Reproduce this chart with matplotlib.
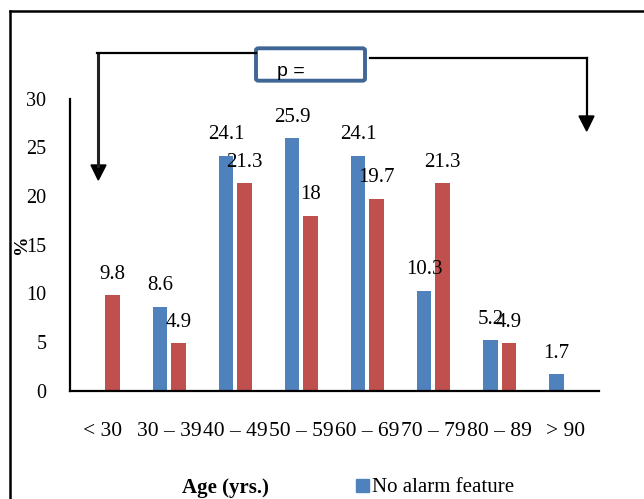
import numpy as np
import matplotlib
matplotlib.use("Agg")
import matplotlib.pyplot as plt
from matplotlib.lines import Line2D
from matplotlib.patches import Patch, Polygon, FancyBboxPatch

# data
age_groups = ["< 30", "30 – 39", "40 – 49", "50 – 59", "60 – 69", "70 – 79", "80 – 89", "> 90"]
no_alarm = [np.nan, 8.6, 24.1, 25.9, 24.1, 10.3, 5.2, 1.7]
alarm = [9.8, 4.9, 21.3, 18.0, 19.7, 21.3, 4.9, np.nan]
y_ticks = [0, 5, 10, 15, 20, 25, 30]

blue = "#4F81BD"
red = "#C0504D"

W, H = 644, 499
plt.rcParams["font.family"] = ["Liberation Serif", "DejaVu Serif"]
plt.rcParams["font.size"] = 15

fig = plt.figure(figsize=(W / 100, H / 100), dpi=100)


def fx(x):
    return x / W


def fy(y):
    return 1 - y / H


# axes placed in pixel terms of the reference
ax_l, ax_r, ax_t, ax_b = 70, 598.7, 98.5, 391
ax = fig.add_axes([fx(ax_l), fy(ax_b), (ax_r - ax_l) / W, (ax_b - ax_t) / H])

x = np.arange(len(age_groups))
bw = 0.22
off = 0.14

bars_b = ax.bar(x - off, no_alarm, width=bw, color=blue, label="No alarm feature")
bars_r = ax.bar(x + off, alarm, width=bw, color=red, label="Alarm feature")

for bars, vals in [(bars_b, no_alarm), (bars_r, alarm)]:
    for bar, v in zip(bars, vals):
        if np.isnan(v):
            continue
        ax.annotate(f"{v:g}", (bar.get_x() + bar.get_width() / 2, v),
                    xytext=(0, 12), textcoords="offset points",
                    ha="center", va="baseline", fontsize=15)

ax.set_xlim(-0.5, len(age_groups) - 0.5)
ax.set_ylim(0, 30)
ax.set_yticks(y_ticks)
ax.set_xticks(x)
ax.set_xticklabels(age_groups)
ax.tick_params(axis="both", length=0)
ax.tick_params(axis="y", pad=17, labelsize=14.5)
ax.tick_params(axis="x", pad=22, labelsize=15.5)
for s in ["top", "right"]:
    ax.spines[s].set_visible(False)
for s in ["left", "bottom"]:
    ax.spines[s].set_linewidth(1.6)

ax.set_ylabel("%", fontweight="bold", fontsize=14, va="center")
ax.yaxis.set_label_coords((21.5 - ax_l) / (ax_r - ax_l), 0.5)
ax.set_xlabel("Age (yrs.)", fontweight="bold", fontsize=15, va="center")
ax.xaxis.set_label_coords((225 - ax_l) / (ax_r - ax_l), (ax_b - 488) / (ax_b - ax_t))

fig.legend(handles=[Patch(color=blue, label="No alarm feature")],
           loc="center left", bbox_to_anchor=(fx(356), fy(488)),
           frameon=False, fontsize=15, handlelength=0.6, handleheight=0.6,
           handletextpad=0.15, borderpad=0, borderaxespad=0)

# outer frame (cropped in the reference)
fig.add_artist(Line2D([fx(10), fx(10)], [fy(11), fy(H + 5)], color="black", lw=1.8))
fig.add_artist(Line2D([fx(10), fx(W + 5)], [fy(11), fy(11)], color="black", lw=1.8))

# bracket with arrows and p-value box
fig.add_artist(Line2D([fx(98.3), fx(98.3)], [fy(52.7), fy(166)], color="#222222", lw=2.2))
fig.add_artist(Line2D([fx(97), fx(256)], [fy(52.7), fy(52.7)], color="black", lw=1.6))
fig.add_artist(Polygon([[fx(91), fy(165)], [fx(106), fy(165)], [fx(98.3), fy(180)]],
                       closed=True, color="black", transform=fig.transFigure))

fig.add_artist(Line2D([fx(370), fx(586.7)], [fy(57.5), fy(57.5)], color="black", lw=1.6))
fig.add_artist(Line2D([fx(586.7), fx(586.7)], [fy(57.5), fy(117)], color="black", lw=1.6))
fig.add_artist(Polygon([[fx(579), fy(116)], [fx(594), fy(116)], [fx(586.7), fy(131)]],
                       closed=True, color="black", transform=fig.transFigure))

box = FancyBboxPatch((fx(256), fy(80.7)), fx(365) - fx(256), fy(48.3) - fy(80.7),
                     boxstyle="round,pad=0,rounding_size=0.004",
                     transform=fig.transFigure, facecolor="white",
                     edgecolor="#3F6696", lw=2.8)
fig.add_artist(box)
fig.text(fx(277), fy(72), "p =", family=["Liberation Sans", "DejaVu Sans"],
         fontsize=14, ha="left", va="center")

fig.savefig("out.png", dpi=100)
